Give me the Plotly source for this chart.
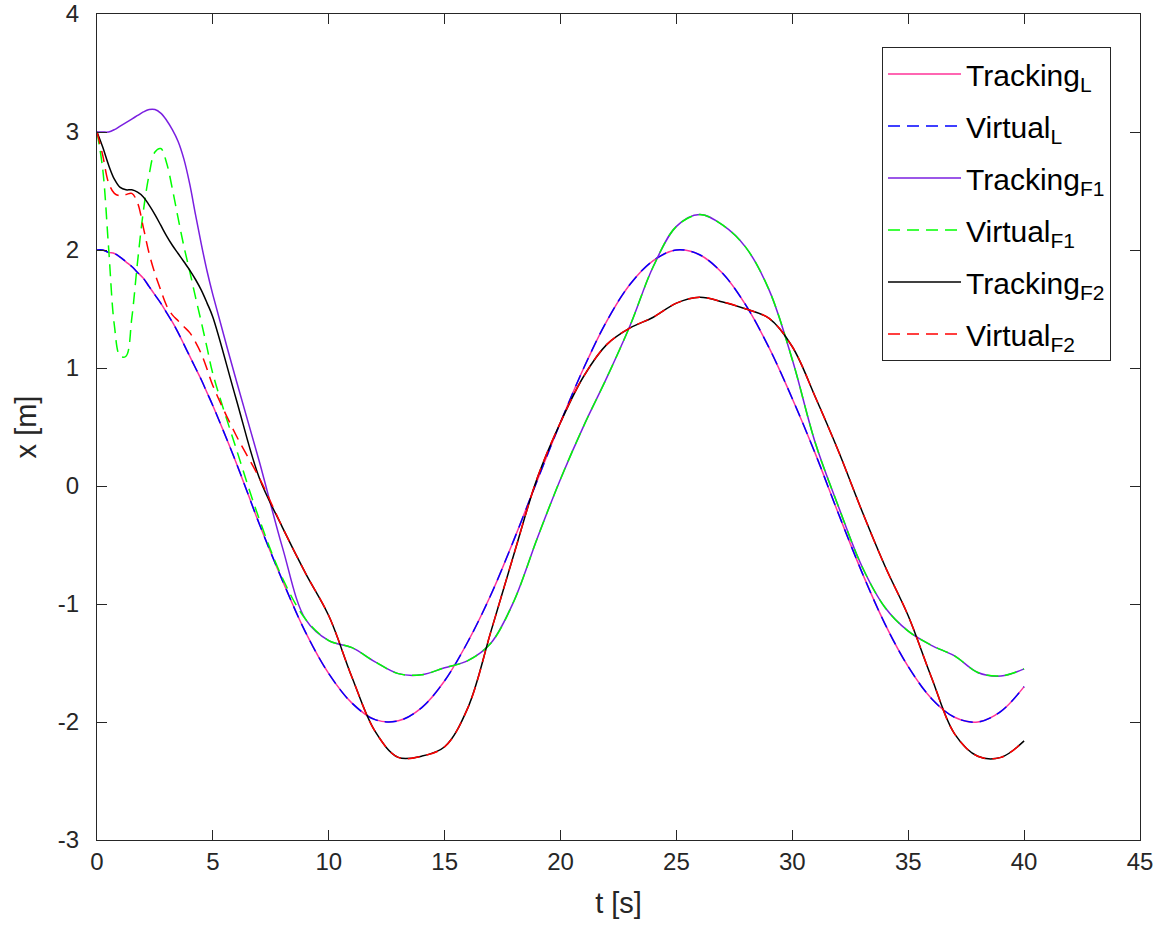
import plotly.graph_objects as go

# time samples [s]
t = [0, 0.25, 0.5, 0.75, 1.0, 1.25, 1.5, 1.75, 2.0, 2.25, 2.5, 2.75, 3.0, 3.25, 3.5, 3.75,
     4.0, 4.25, 4.5, 4.75,
     5, 6, 7, 8, 9, 10, 11, 12, 13, 14, 15, 16, 17, 18, 19, 20, 21, 22, 23, 24, 25, 26,
     27, 28, 29, 30, 31, 32, 33, 34, 35, 36, 37, 38, 39, 40]

x_tracking_L = [2.00, 2.00, 1.98, 1.97, 1.94, 1.90, 1.86, 1.81, 1.76, 1.69, 1.62, 1.55, 1.47, 1.39,
                1.30, 1.20, 1.10, 1.00, 0.90, 0.79,
                0.68, 0.20, -0.32, -0.80, -1.24, -1.59, -1.84, -1.98, -1.99, -1.88, -1.65, -1.32,
                -0.92, -0.45, 0.05, 0.54, 1.00, 1.40, 1.71, 1.91, 2.00, 1.96, 1.80, 1.53, 1.17,
                0.74, 0.27, -0.24, -0.73, -1.17, -1.53, -1.80, -1.96, -2.00, -1.91, -1.70]
x_virtual_L = list(x_tracking_L)

x_tracking_F1 = [3.00, 3.00, 3.00, 3.02, 3.05, 3.08, 3.11, 3.14, 3.17, 3.19, 3.19, 3.16, 3.10, 3.02,
                 2.92, 2.77, 2.56, 2.30, 2.05, 1.82,
                 1.62, 0.90, 0.21, -0.52, -1.13, -1.31, -1.37, -1.49, -1.59, -1.60, -1.54, -1.48,
                 -1.33, -0.97, -0.44, 0.06, 0.51, 0.92, 1.36, 1.86, 2.20, 2.30, 2.21, 2.02, 1.66,
                 1.07, 0.36, -0.18, -0.68, -1.03, -1.23, -1.35, -1.44, -1.58, -1.61, -1.55]
# virtual F1: own transient until t = 8 s, then identical to tracking
x_virtual_F1_start = [3.00, 2.68, 2.02, 1.36, 1.10, 1.10, 1.42, 1.90, 2.33, 2.64, 2.83, 2.86, 2.74,
                      2.52, 2.27, 2.03, 1.82, 1.60, 1.39, 1.17,
                      0.95, 0.32, -0.28, -0.78]
x_virtual_F1 = x_virtual_F1_start + x_tracking_F1[len(x_virtual_F1_start):]

x_tracking_F2 = [3.00, 2.87, 2.72, 2.60, 2.53, 2.51, 2.51, 2.49, 2.45, 2.38, 2.30, 2.21, 2.12, 2.04,
                 1.97, 1.90, 1.83, 1.75, 1.66, 1.55,
                 1.43, 0.74, 0.07, -0.35, -0.74, -1.10, -1.62, -2.08, -2.30, -2.29, -2.21, -1.88,
                 -1.23, -0.57, 0.07, 0.54, 0.93, 1.20, 1.34, 1.43, 1.55, 1.60, 1.56, 1.50, 1.42,
                 1.18, 0.75, 0.29, -0.21, -0.68, -1.10, -1.62, -2.10, -2.29, -2.30, -2.16]
# virtual F2: own transient until t = 6 s, then identical to tracking
x_virtual_F2_start = [3.00, 2.80, 2.57, 2.48, 2.46, 2.47, 2.48, 2.40, 2.19, 1.97, 1.80, 1.66, 1.53,
                      1.45, 1.40, 1.35, 1.30, 1.22, 1.12, 0.99,
                      0.85, 0.43]
x_virtual_F2 = x_virtual_F2_start + x_tracking_F2[len(x_virtual_F2_start):]

x_ticks = [0, 5, 10, 15, 20, 25, 30, 35, 40, 45]
x_tick_labels = ["0", "5", "10", "15", "20", "25", "30", "35", "40", "45"]
y_ticks = [-3, -2, -1, 0, 1, 2, 3, 4]
y_tick_labels = ["-3", "-2", "-1", "0", "1", "2", "3", "4"]

series = [
    ("Tracking<sub>L</sub>", x_tracking_L, "#FF3399", "solid"),
    ("Virtual<sub>L</sub>", x_virtual_L, "#0000FF", "12px,7px"),
    ("Tracking<sub>F1</sub>", x_tracking_F1, "#7A1FE0", "solid"),
    ("Virtual<sub>F1</sub>", x_virtual_F1, "#00FF00", "12px,7px"),
    ("Tracking<sub>F2</sub>", x_tracking_F2, "#000000", "solid"),
    ("Virtual<sub>F2</sub>", x_virtual_F2, "#FF0000", "12px,7px"),
]

FONT = "Liberation Sans, Arial"

fig = go.Figure()
for i, (name, y, color, dash) in enumerate(series):
    fig.add_trace(go.Scatter(
        x=t, y=y, mode="lines", name=name, legendgroup=f"g{i}",
        line=dict(color=color, width=1.5, dash=dash, shape="spline", smoothing=1.0),
    ))

axis_common = dict(
    showgrid=False, zeroline=False, showline=True, linecolor="#262626", linewidth=1,
    mirror="ticks", ticks="inside", ticklen=10, tickcolor="#262626",
    tickfont=dict(family=FONT, size=24, color="#262626"),
    automargin=False,
)

fig.update_layout(
    width=1173, height=944,
    margin=dict(l=97, r=33, t=14, b=104),
    paper_bgcolor="white", plot_bgcolor="white",
    showlegend=True,
    legend=dict(
        x=0.9722, y=0.960, xanchor="right", yanchor="top",
        bgcolor="white", bordercolor="#262626", borderwidth=1,
        font=dict(family=FONT, size=30, color="#000000"),
        itemwidth=73, tracegroupgap=10, traceorder="grouped",
    ),
    xaxis=dict(range=[0, 45], tickmode="array", tickvals=x_ticks, ticktext=x_tick_labels,
               title=dict(text="t [s]", font=dict(family=FONT, size=29, color="#262626"), standoff=18),
               **axis_common),
    yaxis=dict(range=[-3, 4], tickmode="array", tickvals=y_ticks, ticktext=y_tick_labels,
               ticklabelstandoff=12,
               title=dict(text="x [m]", font=dict(family=FONT, size=29, color="#262626"), standoff=12),
               **axis_common),
)

fig.write_html("out.html")
